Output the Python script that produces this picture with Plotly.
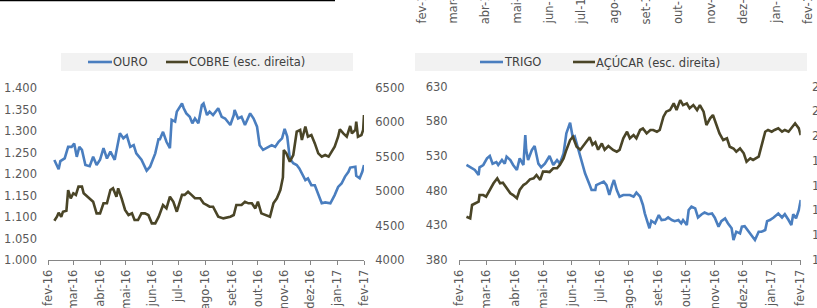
import plotly.graph_objects as go
import pandas as pd

# ---------------- DATA ----------------
month_ticks = ["2016-02-01", "2016-03-01", "2016-04-01", "2016-05-01", "2016-06-01",
               "2016-07-01", "2016-08-01", "2016-09-01", "2016-10-01", "2016-11-01",
               "2016-12-01", "2017-01-01", "2017-02-01"]
month_labels = ["fev-16", "mar-16", "abr-16", "mai-16", "jun-16", "jul-16", "ago-16",
                "set-16", "out-16", "nov-16", "dez-16", "jan-17", "fev-17"]

ouro_dates = [
    "2016-02-08", "2016-02-13", "2016-02-15", "2016-02-20", "2016-02-24", "2016-02-28", "2016-03-02", "2016-03-05", "2016-03-08", "2016-03-11",
    "2016-03-15", "2016-03-20", "2016-03-24", "2016-03-28", "2016-04-01", "2016-04-05", "2016-04-09", "2016-04-13", "2016-04-18", "2016-04-24",
    "2016-04-28", "2016-05-02", "2016-05-06", "2016-05-10", "2016-05-13", "2016-05-19", "2016-05-25", "2016-05-29", "2016-06-04", "2016-06-08",
    "2016-06-09", "2016-06-13", "2016-06-17", "2016-06-21", "2016-06-23", "2016-06-27", "2016-06-29", "2016-07-05", "2016-07-07", "2016-07-10",
    "2016-07-14", "2016-07-17", "2016-07-20", "2016-07-24", "2016-07-28", "2016-07-30", "2016-08-03", "2016-08-06", "2016-08-10", "2016-08-16",
    "2016-08-20", "2016-08-24", "2016-08-30", "2016-09-03", "2016-09-04", "2016-09-08", "2016-09-12", "2016-09-16", "2016-09-22", "2016-09-26",
    "2016-09-30", "2016-10-03", "2016-10-07", "2016-10-11", "2016-10-17", "2016-10-21", "2016-10-25", "2016-10-29", "2016-11-01", "2016-11-04",
    "2016-11-07", "2016-11-11", "2016-11-15", "2016-11-18", "2016-11-21", "2016-11-25", "2016-11-28", "2016-12-02", "2016-12-06", "2016-12-10",
    "2016-12-14", "2016-12-18", "2016-12-24", "2016-12-29", "2017-01-02", "2017-01-06", "2017-01-10", "2017-01-14", "2017-01-16", "2017-01-22",
    "2017-01-23", "2017-01-27", "2017-01-30", "2017-02-01"]
ouro = [
    1232.6, 1211, 1230, 1236.5, 1263, 1263, 1271, 1240, 1263, 1256,
    1221, 1218, 1240, 1221, 1233, 1260, 1236, 1252, 1233, 1295,
    1283, 1290, 1263, 1267, 1248, 1233, 1208, 1217, 1248, 1283,
    1279, 1298, 1275, 1260, 1326, 1322, 1345, 1364, 1353, 1341,
    1333, 1318, 1329, 1318, 1360, 1364, 1337, 1345, 1337, 1353,
    1333, 1329, 1314, 1337, 1349, 1329, 1333, 1314, 1341, 1329,
    1310, 1267, 1256, 1260, 1267, 1263, 1275, 1283, 1305, 1287,
    1236, 1225, 1221, 1213, 1202, 1186, 1190, 1174, 1174, 1155,
    1132, 1134, 1132, 1151, 1170, 1178, 1194, 1205, 1215, 1217,
    1196, 1190, 1205, 1221]

cobre_dates = [
    "2016-02-08", "2016-02-11", "2016-02-13", "2016-02-16", "2016-02-18", "2016-02-22", "2016-02-24", "2016-02-27", "2016-03-01", "2016-03-04",
    "2016-03-07", "2016-03-11", "2016-03-13", "2016-03-18", "2016-03-24", "2016-03-28", "2016-04-01", "2016-04-05", "2016-04-09", "2016-04-13",
    "2016-04-16", "2016-04-20", "2016-04-22", "2016-04-26", "2016-04-30", "2016-05-04", "2016-05-08", "2016-05-11", "2016-05-15", "2016-05-19",
    "2016-05-23", "2016-05-27", "2016-05-31", "2016-06-04", "2016-06-08", "2016-06-13", "2016-06-17", "2016-06-21", "2016-06-25", "2016-06-29",
    "2016-07-05", "2016-07-08", "2016-07-12", "2016-07-16", "2016-07-20", "2016-07-26", "2016-07-30", "2016-08-03", "2016-08-06", "2016-08-10",
    "2016-08-16", "2016-08-22", "2016-08-30", "2016-09-03", "2016-09-06", "2016-09-12", "2016-09-16", "2016-09-20", "2016-09-24", "2016-09-28",
    "2016-10-01", "2016-10-05", "2016-10-11", "2016-10-15", "2016-10-19", "2016-10-23", "2016-10-27", "2016-10-30", "2016-10-31", "2016-11-03",
    "2016-11-07", "2016-11-11", "2016-11-15", "2016-11-19", "2016-11-21", "2016-11-25", "2016-11-28", "2016-12-02", "2016-12-06", "2016-12-10",
    "2016-12-14", "2016-12-18", "2016-12-22", "2016-12-25", "2016-12-29", "2017-01-02", "2017-01-04", "2017-01-08", "2017-01-12", "2017-01-16",
    "2017-01-18", "2017-01-22", "2017-01-23", "2017-01-25", "2017-01-29", "2017-01-31", "2017-02-01"]
cobre = [
    4571, 4629, 4688, 4629, 4702, 4717, 5017, 4897, 4970, 4946,
    5066, 5066, 4970, 4920, 4847, 4678, 4678, 4824, 4824, 5017,
    5042, 4920, 5042, 4897, 4727, 4654, 4678, 4581, 4581, 4678,
    4678, 4654, 4533, 4533, 4629, 4799, 4750, 4920, 4847, 4702,
    4946, 4946, 4993, 4946, 4897, 4897, 4824, 4799, 4775, 4775,
    4629, 4605, 4629, 4654, 4799, 4799, 4847, 4824, 4824, 4750,
    4847, 4678, 4654, 4629, 4824, 4897, 5017, 5200, 5599, 5550,
    5429, 5526, 5865, 5890, 5744, 5938, 5792, 5816, 5695, 5550,
    5502, 5526, 5502, 5574, 5647, 5792, 5900, 5840, 5792, 5948,
    5840, 5890, 6010, 5792, 5816, 5890, 6108]

trigo_dates = [
    "2016-02-09", "2016-02-13", "2016-02-18", "2016-02-22", "2016-02-23", "2016-02-27", "2016-03-02", "2016-03-05", "2016-03-08", "2016-03-12",
    "2016-03-14", "2016-03-18", "2016-03-21", "2016-03-23", "2016-03-27", "2016-03-30", "2016-04-03", "2016-04-06", "2016-04-10", "2016-04-12",
    "2016-04-13", "2016-04-15", "2016-04-19", "2016-04-22", "2016-04-26", "2016-04-29", "2016-05-03", "2016-05-08", "2016-05-12", "2016-05-16",
    "2016-05-19", "2016-05-23", "2016-05-26", "2016-05-30", "2016-06-02", "2016-06-04", "2016-06-08", "2016-06-11", "2016-06-15", "2016-06-20",
    "2016-06-22", "2016-06-26", "2016-06-27", "2016-07-01", "2016-07-05", "2016-07-08", "2016-07-11", "2016-07-14", "2016-07-16", "2016-07-19",
    "2016-07-22", "2016-07-26", "2016-07-30", "2016-08-02", "2016-08-06", "2016-08-09", "2016-08-13", "2016-08-16", "2016-08-18", "2016-08-21",
    "2016-08-23", "2016-08-25", "2016-08-29", "2016-09-02", "2016-09-05", "2016-09-09", "2016-09-12", "2016-09-16", "2016-09-19", "2016-09-23",
    "2016-09-26", "2016-09-28", "2016-10-02", "2016-10-04", "2016-10-07", "2016-10-11", "2016-10-14", "2016-10-18", "2016-10-21", "2016-10-25",
    "2016-10-29", "2016-11-01", "2016-11-05", "2016-11-08", "2016-11-12", "2016-11-15", "2016-11-19", "2016-11-21", "2016-11-24", "2016-11-28",
    "2016-11-30", "2016-12-03", "2016-12-07", "2016-12-10", "2016-12-14", "2016-12-18", "2016-12-21", "2016-12-25", "2016-12-27", "2016-12-30",
    "2017-01-03", "2017-01-06", "2017-01-08", "2017-01-12", "2017-01-15", "2017-01-19", "2017-01-22", "2017-01-24", "2017-01-27", "2017-01-30",
    "2017-02-01"]
trigo = [
    516.9, 513.6, 509.7, 502.5, 513.6, 516.9, 526.5, 529.9, 518.8, 521.0,
    516.9, 524.1, 518.8, 528.9, 524.0, 516.9, 509.7, 526.5, 516.9, 560.1,
    538.5, 524.0, 538.5, 544.3, 518.8, 513.6, 518.8, 529.9, 516.9, 524.0,
    518.8, 533.7, 562.6, 577.9, 555.3, 557.7, 538.5, 524.0, 505.0, 488.1,
    480.9, 480.9, 488.0, 490.5, 492.9, 488.0, 473.7, 488.0, 495.3, 480.9,
    471.2, 473.7, 473.7, 473.7, 471.2, 477.0, 471.2, 459.3, 447.3, 432.9,
    425.7, 436.5, 432.9, 444.8, 437.6, 438.4, 441.3, 437.6, 436.0, 437.6,
    432.9, 437.6, 430.4, 452.0, 456.8, 454.4, 441.3, 446.0, 448.4, 446.0,
    447.0, 441.0, 428.0, 436.0, 440.0, 433.0, 425.7, 408.8, 420.8, 418.4,
    428.0, 428.8, 420.8, 416.0, 408.8, 420.8, 420.8, 423.2, 436.0, 437.6,
    441.3, 444.8, 447.0, 441.3, 446.0, 437.6, 430.4, 446.0, 440.0, 452.0,
    466.5]

acucar_dates = [
    "2016-02-09", "2016-02-13", "2016-02-15", "2016-02-18", "2016-02-22", "2016-02-23", "2016-02-27", "2016-03-01", "2016-03-05", "2016-03-09",
    "2016-03-13", "2016-03-16", "2016-03-19", "2016-03-23", "2016-03-27", "2016-03-30", "2016-04-03", "2016-04-06", "2016-04-10", "2016-04-13",
    "2016-04-17", "2016-04-21", "2016-04-24", "2016-04-28", "2016-05-01", "2016-05-05", "2016-05-08", "2016-05-12", "2016-05-16", "2016-05-19",
    "2016-05-23", "2016-05-26", "2016-05-30", "2016-06-02", "2016-06-06", "2016-06-10", "2016-06-13", "2016-06-19", "2016-06-20", "2016-06-23",
    "2016-06-26", "2016-06-29", "2016-07-03", "2016-07-06", "2016-07-10", "2016-07-15", "2016-07-19", "2016-07-22", "2016-07-26", "2016-07-30",
    "2016-08-02", "2016-08-06", "2016-08-09", "2016-08-13", "2016-08-16", "2016-08-20", "2016-08-24", "2016-08-27", "2016-08-31", "2016-09-03",
    "2016-09-07", "2016-09-10", "2016-09-14", "2016-09-18", "2016-09-21", "2016-09-25", "2016-09-28", "2016-10-02", "2016-10-05", "2016-10-09",
    "2016-10-13", "2016-10-16", "2016-10-20", "2016-10-23", "2016-10-27", "2016-10-30", "2016-11-03", "2016-11-06", "2016-11-10", "2016-11-14",
    "2016-11-17", "2016-11-21", "2016-11-24", "2016-11-28", "2016-12-02", "2016-12-05", "2016-12-09", "2016-12-12", "2016-12-18", "2016-12-21",
    "2016-12-25", "2016-12-28", "2017-01-01", "2017-01-04", "2017-01-08", "2017-01-12", "2017-01-15", "2017-01-19", "2017-01-22", "2017-01-26",
    "2017-01-30", "2017-02-01"]
acucar = [
    13.49, 13.36, 14.44, 14.57, 14.70, 15.24, 15.24, 15.11, 15.65, 16.19,
    16.59, 16.19, 16.24, 15.79, 15.38, 15.24, 14.98, 15.65, 16.05, 16.19,
    16.51, 16.59, 16.86, 16.46, 17.13, 17.13, 17.10, 17.40, 17.40, 17.67,
    18.20, 18.88, 19.68, 19.95, 19.14, 18.90, 19.20, 19.82, 19.90, 19.30,
    19.50, 18.90, 19.40, 18.90, 19.20, 18.88, 18.74, 18.88, 19.82, 20.35,
    19.82, 20.08, 19.82, 20.49, 20.62, 20.22, 20.49, 20.49, 20.35, 20.49,
    21.56, 21.97, 22.10, 22.64, 22.10, 22.90, 22.50, 22.64, 22.24, 22.50,
    22.10, 22.50, 21.97, 20.89, 21.43, 21.70, 20.89, 20.22, 19.68, 19.82,
    19.14, 19.00, 18.74, 19.00, 18.61, 17.93, 18.20, 18.07, 18.34, 19.14,
    20.35, 20.49, 20.35, 20.49, 20.62, 20.35, 20.49, 20.35, 20.62, 21.03,
    20.62, 20.08]

# ---------------- STYLE ----------------
W, H = 817, 308
BLUE = "#4a7ebf"
OLIVE = "#4a4527"
AXIS = "#868686"
TXT = "#595959"
FONT = "DejaVu Sans"
FS = 11.5


def px(x):
    return x / W


def py(y):
    return 1 - y / H


fig = go.Figure()
fig.add_trace(go.Scatter(x=pd.to_datetime(ouro_dates), y=ouro, mode="lines", name="OURO",
                         line=dict(color=BLUE, width=2.6), xaxis="x", yaxis="y"))
fig.add_trace(go.Scatter(x=pd.to_datetime(cobre_dates), y=cobre, mode="lines", name="COBRE (esc. direita)",
                         line=dict(color=OLIVE, width=2.6), xaxis="x", yaxis="y2"))
fig.add_trace(go.Scatter(x=pd.to_datetime(trigo_dates), y=trigo, mode="lines", name="TRIGO",
                         line=dict(color=BLUE, width=2.6), xaxis="x2", yaxis="y3"))
fig.add_trace(go.Scatter(x=pd.to_datetime(acucar_dates), y=acucar, mode="lines", name="AÇÚCAR (esc. direita)",
                         line=dict(color=OLIVE, width=2.6), xaxis="x2", yaxis="y4"))

xcommon = dict(type="date", range=[month_ticks[0], month_ticks[-1]], tickmode="array",
               tickvals=month_ticks, ticktext=month_labels, tickangle=-90,
               showline=True, linecolor=AXIS, linewidth=1, ticks="outside", ticklen=4,
               tickcolor=AXIS, showgrid=False, zeroline=False, automargin=False,
               tickfont=dict(family=FONT, size=FS, color=TXT))
# invisible outside ticks give the label gap used by the reference
ycommon = dict(showgrid=False, zeroline=False, showline=False, ticks="outside", ticklen=8,
               tickcolor="rgba(0,0,0,0)", automargin=False,
               tickfont=dict(family=FONT, size=FS, color=TXT))

fig.update_layout(
    width=W, height=H, margin=dict(l=0, r=0, t=0, b=0, pad=0, autoexpand=False),
    paper_bgcolor="white", plot_bgcolor="rgba(0,0,0,0)",
    separators=",.", showlegend=False,
    font=dict(family=FONT, size=FS, color=TXT),
    xaxis=dict(xcommon, domain=[px(48.3), px(364)], anchor="y"),
    yaxis=dict(ycommon, domain=[py(260), py(88)], anchor="x", range=[1000, 1400],
               tick0=1000, dtick=50, tickformat=",.0f"),
    yaxis2=dict(ycommon, overlaying="y", side="right", anchor="x", range=[4000, 6500],
                tick0=4000, dtick=500, tickformat="d"),
    xaxis2=dict(xcommon, domain=[px(459), px(800.7)], anchor="y3"),
    yaxis3=dict(ycommon, domain=[py(260), py(86.5)], anchor="x2", range=[380, 630],
                tick0=380, dtick=50),
    yaxis4=dict(ycommon, overlaying="y3", side="right", anchor="x2", range=[10, 24],
                tick0=10, dtick=2),
)

shapes = []
annotations = []

# black rule at top-left (remnant of the page above)
shapes.append(dict(type="rect", xref="paper", yref="paper", x0=0, x1=px(335),
                   y0=py(1.3), y1=1, fillcolor="black", line=dict(width=0), layer="above"))

# legend boxes
legends = [
    (61, 353, [(88, 112, BLUE, "OURO"), (166, 188, OLIVE, "COBRE (esc. direita)")]),
    (415, 807, [(480, 503, BLUE, "TRIGO"), (573, 595, OLIVE, "AÇÚCAR (esc. direita)")]),
]
for bx0, bx1, items in legends:
    shapes.append(dict(type="rect", xref="paper", yref="paper", x0=px(bx0), x1=px(bx1),
                       y0=py(71), y1=py(53), fillcolor="#f2f2f2", line=dict(width=0), layer="below"))
    for lx0, lx1, col, label in items:
        shapes.append(dict(type="line", xref="paper", yref="paper", x0=px(lx0), x1=px(lx1),
                           y0=py(62), y1=py(62), line=dict(color=col, width=2.6)))
        annotations.append(dict(xref="paper", yref="paper", x=px(lx1 - 1), y=py(62),
                                xanchor="left", yanchor="middle", showarrow=False, text=label,
                                font=dict(family=FONT, size=FS, color="#404040")))

# cut-off month labels from the chart above (top right)
t0 = pd.Timestamp(month_ticks[0])
t1 = pd.Timestamp(month_ticks[-1])
for d, lab in zip(month_ticks, month_labels):
    frac = (pd.Timestamp(d) - t0) / (t1 - t0)
    xp = 421.5 + frac * (808 - 421.5)
    annotations.append(dict(xref="paper", yref="paper", x=px(xp), y=py(25),
                            xanchor="center", yanchor="bottom", showarrow=False, text=lab,
                            textangle=-90, borderpad=0,
                            font=dict(family=FONT, size=FS, color=TXT)))

fig.update_layout(shapes=shapes, annotations=annotations)
fig.write_html("out.html", config={"displayModeBar": False},
               post_script="document.body.style.margin='0';document.body.style.padding='0';"
                           "document.documentElement.style.overflow='hidden';")
